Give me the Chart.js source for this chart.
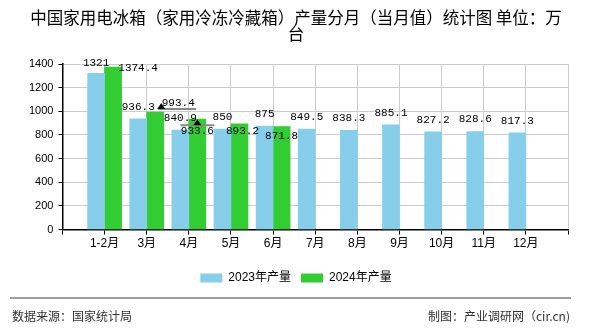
<!DOCTYPE html>
<html>
<head>
<meta charset="utf-8">
<script src="https://cdn.jsdelivr.net/npm/chart.js@4"></script>
<style>
  html, body { margin: 0; padding: 0; background: #fff; }
  #wrap { width: 590px; height: 330px; }
</style>
</head>
<body>
<div id="wrap"><canvas id="grafico" width="590" height="330"></canvas></div>
<script>
// Datos del gráfico
const meses = ['1-2月', '3月', '4月', '5月', '6月', '7月', '8月', '9月', '10月', '11月', '12月'];
const produccion2023 = [1321, 936.3, 840.9, 850, 875, 849.5, 838.3, 885.1, 827.2, 828.6, 817.3];
const produccion2024 = [1374.4, 993.4, 933.6, 893.2, 871.8];
const ticksY = [0, 200, 400, 600, 800, 1000, 1200, 1400];

const titulo = ['中国家用电冰箱（家用冷冻冷藏箱）产量分月（当月值）统计图 单位：万', '台'];
const fuente = '数据来源：国家统计局';
const autor = '制图：产业调研网（cir.cn)';

// El eje tiene un hueco vacío a cada lado
const etiquetas = ['', ...meses, ''];
function rellenar(valores) {
    const fila = [null];
    for (let i = 0; i < meses.length; i++) {
        fila.push(i < valores.length ? valores[i] : null);
    }
    fila.push(null);
    return fila;
}

// Desplazamientos de las etiquetas de 2024 (para que no se pisen)
const ajuste2024 = [[25, 1], [23, -9], [0, 12], [3, 7], [0, 10]];

const pluginEtiquetas = {
    id: 'etiquetas',
    afterDatasetsDraw(chart) {
        const ctx = chart.ctx;
        ctx.save();
        ctx.font = '11px "Liberation Mono", monospace';
        ctx.textAlign = 'center';
        ctx.textBaseline = 'middle';

        // líneas guía con flecha para 993.4 y 933.6: [índice, x inicio, x fin, dy, x flecha]
        const meta2024 = chart.getDatasetMeta(1);
        const guias = [[2, 3, 41, -3, 6], [3, -17, 17, 6, 0]];
        guias.forEach(([i, x1, x2, dy, xf]) => {
            const bar = meta2024.data[i];
            ctx.strokeStyle = '#888';
            ctx.lineWidth = 2;
            ctx.beginPath();
            ctx.moveTo(bar.x + x1, bar.y + dy);
            ctx.lineTo(bar.x + x2, bar.y + dy);
            ctx.stroke();
            const ax = bar.x + xf;
            ctx.fillStyle = '#000';
            ctx.beginPath();
            ctx.moveTo(ax, bar.y + dy - 6);
            ctx.lineTo(ax - 4, bar.y + dy);
            ctx.lineTo(ax + 4, bar.y + dy);
            ctx.closePath();
            ctx.fill();
        });

        chart.data.datasets.forEach((ds, d) => {
            const meta = chart.getDatasetMeta(d);
            meta.data.forEach((bar, i) => {
                const v = ds.data[i];
                if (v === null) return;
                let dx = 0, dy = -12;
                if (d === 0 && i === 1) dy = -10;
                if (d === 1) {
                    dx = ajuste2024[i - 1][0];
                    dy = ajuste2024[i - 1][1];
                }
                ctx.fillStyle = '#000';
                ctx.fillText(String(v), bar.x + dx, bar.y + dy);
            });
        });
        ctx.restore();
    }
};

const pluginPie = {
    id: 'pie',
    afterDraw(chart) {
        const ctx = chart.ctx;
        ctx.save();
        ctx.strokeStyle = '#808080';
        ctx.lineWidth = 1.5;
        ctx.beginPath();
        ctx.moveTo(10, 298);
        ctx.lineTo(571, 298);
        ctx.stroke();
        ctx.fillStyle = '#333';
        ctx.font = '12px "Noto Sans CJK SC", sans-serif';
        ctx.textBaseline = 'middle';
        ctx.textAlign = 'left';
        ctx.fillText(fuente, 12, 316);
        ctx.textAlign = 'right';
        ctx.fillText(autor, 570, 316);
        ctx.restore();
    }
};

const ctx = document.getElementById('grafico').getContext('2d');
new Chart(ctx, {
    type: 'bar',
    data: {
        labels: etiquetas,
        datasets: [
            {
                label: '2023年产量',
                data: rellenar(produccion2023),
                backgroundColor: '#87CEEB',
                barThickness: 17
            },
            {
                label: '2024年产量',
                data: rellenar(produccion2024),
                backgroundColor: '#32CD32',
                barThickness: 17
            }
        ]
    },
    options: {
        responsive: false,
        animation: false,
        layout: { padding: { left: 24, right: 22, top: 0, bottom: 36 } },
        plugins: {
            tooltip: { enabled: false },
            title: {
                display: true,
                text: titulo,
                color: '#000',
                font: { family: '"Noto Sans CJK SC", sans-serif', size: 16.5, weight: 'normal', lineHeight: 1.0 },
                padding: { top: 9, bottom: 22 }
            },
            legend: {
                position: 'bottom',
                labels: {
                    boxWidth: 22,
                    boxHeight: 9,
                    padding: 10,
                    color: '#000',
                    font: { family: '"Liberation Sans", "Noto Sans CJK SC", sans-serif', size: 12 }
                }
            }
        },
        scales: {
            x: {
                offset: false,
                afterFit(scale) {
                    scale.height += 9;
                },
                grid: { color: '#ccc', offset: false, tickLength: 5, tickColor: '#000' },
                border: { color: '#000', width: 1.5 },
                ticks: {
                    autoSkip: false,
                    maxRotation: 0,
                    color: '#000',
                    padding: 2,
                    font: { family: '"Liberation Sans", "Noto Sans CJK SC", sans-serif', size: 12 }
                }
            },
            y: {
                min: 0,
                max: 1400,
                afterBuildTicks(axis) {
                    axis.ticks = ticksY.map(v => ({ value: v }));
                },
                grid: { color: '#ccc', tickLength: 4, tickColor: '#000' },
                border: { color: '#000', width: 1.5 },
                ticks: {
                    color: '#000',
                    padding: 5,
                    callback: v => String(v),
                    font: { family: '"Liberation Sans", sans-serif', size: 11 }
                }
            }
        }
    },
    plugins: [pluginEtiquetas, pluginPie]
});
</script>
</body>
</html>
